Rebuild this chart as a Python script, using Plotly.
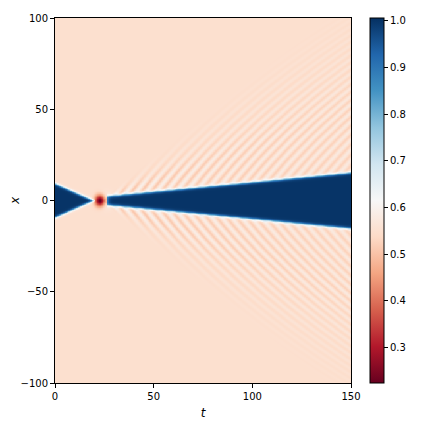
import numpy as np
import plotly.graph_objects as go
import plotly.express as px

# values
t_range = [0, 150]
x_range = [-100, 100]
t_ticks = [0, 50, 100, 150]
x_ticks = [-100, -50, 0, 50, 100]
cbar_ticks = [0.3, 0.4, 0.5, 0.6, 0.7, 0.8, 0.9, 1.0]

background_level = 0.55
plateau_level = 1.0
dip_level = 0.224
halo_level = 0.63

# incoming wedge (t, half-width) and outgoing wedge (t, half-width)
left_wedge_t = [0.0, 19.5]
left_wedge_hw = [9.3, 0.0]
right_wedge_t = [27.0, 150.0]
right_wedge_hw = [2.5, 15.3]

dip_center = [22.8, 0.0]
dip_width = [1.9, 2.3]

# radiated ripples: origin time, crest speed at x=0, wavelength at x=0,
# chirp scale, amplitude, front speeds
ripple_t0 = 23.0
ripple_speed = 1.5
ripple_wavelength = 7.5
ripple_chirp = 80.0
ripple_amp = 0.05
ripple_front = [0.4, 0.9]

t = np.linspace(t_range[0], t_range[1], 451)
x = np.linspace(x_range[0], x_range[1], 601)
T, X = np.meshgrid(t, x)


def wedge_mask(tk, hk):
    slope = (hk[1] - hk[0]) / (tk[1] - tk[0])
    hw = hk[0] + slope * (T - tk[0])
    inside = (T >= tk[0] - 0.5) & (T <= tk[1] + 0.5)
    m = 0.5 * (1 - np.tanh((np.abs(X) - hw) / 0.8))
    return np.where(inside & (hw > -2), m, 0.0)


mask = np.maximum(wedge_mask(left_wedge_t, left_wedge_hw),
                  wedge_mask(right_wedge_t, right_wedge_hw))

tau = np.clip(T - ripple_t0, 1e-3, None)
ax = np.abs(X)
xi = ax / tau
f0, f1 = ripple_front
env = np.clip((f1 - xi) / (f1 - f0), 0, 1) ** 1.3
env *= np.sqrt(40 / (tau + 40)) * (T > ripple_t0 + 1)
k0 = 2 * np.pi / ripple_wavelength
phase = k0 * (ax + ax ** 2 / (2 * ripple_chirp)) - k0 * ripple_speed * tau
ripple = ripple_amp * env * np.cos(phase)

base = background_level + ripple
z = base + (plateau_level - base) * mask
r2 = ((T - dip_center[0]) / dip_width[0]) ** 2 + ((X - dip_center[1]) / dip_width[1]) ** 2
halo = np.exp(-((T - dip_center[0] - 1.5) ** 2 / 14 + X ** 2 / 16))
z = z + (halo_level - background_level) * halo * (1 - mask)
z = z - (z - dip_level) * np.exp(-r2 / 2)

fig = go.Figure(go.Heatmap(
    x=t, y=x, z=z,
    colorscale=px.colors.diverging.RdBu,
    zmin=0.224, zmax=1.006,
    colorbar=dict(
        tickvals=cbar_ticks, ticktext=[f"{v:.1f}" for v in cbar_ticks],
        ticks="outside", ticklen=4, tickcolor="black",
        thickness=14, len=1, lenmode="fraction", y=0.5, yanchor="middle",
        x=1.064, xanchor="left", xpad=0, ypad=0,
        outlinewidth=1, outlinecolor="black",
        tickfont=dict(size=10, color="black"),
    ),
))

fig.update_xaxes(
    range=t_range, tickvals=t_ticks, ticks="outside", ticklen=4,
    tickcolor="black", showline=True, linecolor="black", mirror=True,
    title=dict(text="<i>t</i>", standoff=7), showgrid=False, zeroline=False,
    automargin=False)
fig.update_yaxes(
    range=x_range, tickvals=x_ticks, ticks="outside", ticklen=4,
    tickcolor="black", showline=True, linecolor="black", mirror=True,
    title=dict(text="<i>x</i>", standoff=14), showgrid=False, zeroline=False,
    automargin=False)

# page body has an 8px margin, so the figure is shifted left/up by 8
fig.update_layout(
    width=436, height=436,
    margin=dict(l=47, r=93, t=10, b=61, autoexpand=False),
    font=dict(family="DejaVu Sans", size=10, color="black"),
    plot_bgcolor="white", paper_bgcolor="white")

fig.write_html("out.html")
